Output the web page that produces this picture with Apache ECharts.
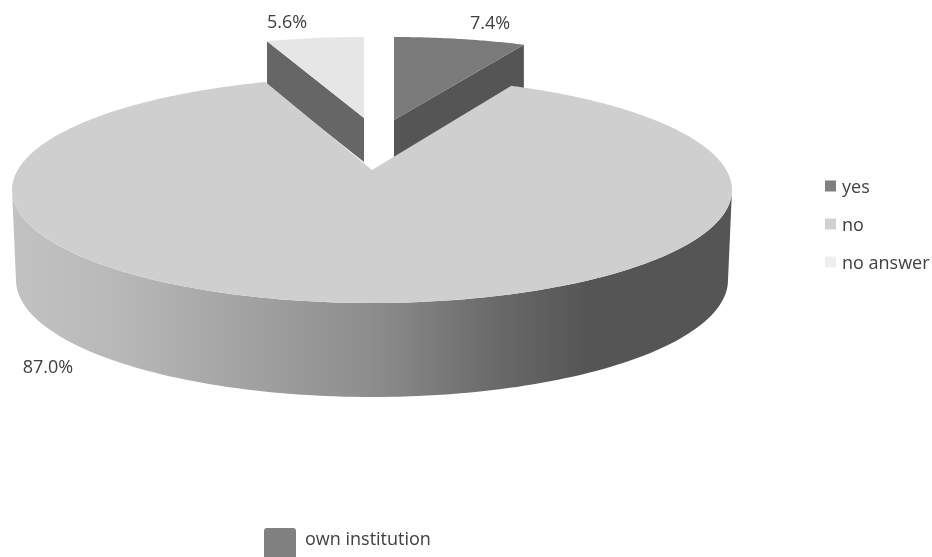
<!DOCTYPE html>
<html><head><meta charset="utf-8">
<style>html,body{margin:0;padding:0;background:#fff}#c{width:932px;height:557px}</style>
<script src="https://cdn.jsdelivr.net/npm/echarts@6/dist/echarts.min.js"></script>
</head><body><div id="c"></div>
<script>
const categories = ['yes', 'no', 'no answer'];
const shares = [7.4, 87.0, 5.6];
const swatchColors = ['#808080', '#d0d0d0', '#eeeeee'];
const noteLabel = 'own institution';

const FONT = '"Open Sans", sans-serif';
// cumulative angular span of each slice, clockwise from 12 o'clock
const total = shares.reduce((a, b) => a + b, 0);
const spans = [];
shares.reduce((acc, v) => { spans.push([acc / total * 360, (acc + v) / total * 360]); return acc + v; }, 0);

// projection of each exploded slice of the tilted pie
const views = [
  { apex: [394, 120], centre: [393, 150], rx: 360, ry: 113, k: 3.44, depth: 44, top: '#7a7a7a', side: '#555555', sideAt: 1, label: [490, 24] },
  { apex: [372, 170], centre: [372, 190], rx: 360, ry: 113, k: 3.3, depth: 0, top: '#cfcfcf', label: [48, 368] },
  { apex: [364, 118], centre: [364, 150], rx: 360, ry: 113, k: 3.44, depth: 44, top: '#e6e6e6', side: '#666666', sideAt: 0, label: [287, 23] }
];
const wallBottom = { cx: 372, cy: 280, rx: 356, ry: 117 };

function rim(v, deg) {
  const a = deg * Math.PI / 180;
  const dx = v.k * v.ry * Math.sin(a), dy = -v.ry * Math.cos(a);
  const ox = v.apex[0] - v.centre[0], oy = v.apex[1] - v.centre[1];
  const A = dx * dx / (v.rx * v.rx) + dy * dy / (v.ry * v.ry);
  const B = 2 * (ox * dx / (v.rx * v.rx) + oy * dy / (v.ry * v.ry));
  const C = ox * ox / (v.rx * v.rx) + oy * oy / (v.ry * v.ry) - 1;
  const t = (-B + Math.sqrt(B * B - 4 * A * C)) / (2 * A);
  return [v.apex[0] + dx * t, v.apex[1] + dy * t];
}

function renderSlice(i) {
  return function (params, api) {
    const v = views[i], [s, e] = spans[i];
    const children = [];
    if (v.depth) {
      const p = rim(v, v.sideAt ? e : s);
      children.push({
        type: 'polygon',
        shape: { points: [v.apex, p, [p[0], p[1] + v.depth], [v.apex[0], v.apex[1] + v.depth]] },
        style: { fill: v.side }
      });
    } else {
      const pts = [];
      const T = v.centre, B = wallBottom;
      for (let n = 0; n <= 120; n++) {
        const th = Math.PI * n / 120;
        pts.push([T[0] - v.rx * Math.cos(th), T[1] + v.ry * Math.sin(th)]);
      }
      for (let n = 120; n >= 0; n--) {
        const th = Math.PI * n / 120;
        pts.push([B.cx - B.rx * Math.cos(th), B.cy + B.ry * Math.sin(th)]);
      }
      children.push({
        type: 'polygon',
        shape: { points: pts },
        style: {
          fill: new echarts.graphic.LinearGradient(0, 0, 1, 0, [
            { offset: 0, color: '#c2c2c2' },
            { offset: 0.15, color: '#b8b8b8' },
            { offset: 0.5, color: '#8d8d8d' },
            { offset: 0.68, color: '#686868' },
            { offset: 0.8, color: '#555555' },
            { offset: 1, color: '#555555' }
          ])
        }
      });
    }
    const face = [v.apex];
    const steps = Math.max(4, Math.round((e - s) * 2));
    for (let n = 0; n <= steps; n++) face.push(rim(v, s + (e - s) * n / steps));
    children.push({ type: 'polygon', shape: { points: face }, style: { fill: v.top } });
    children.push({
      type: 'text',
      style: {
        text: api.value(0).toFixed(1) + '%', x: v.label[0], y: v.label[1],
        align: 'center', verticalAlign: 'middle',
        fill: '#404040', font: '18px ' + FONT
      }
    });
    return { type: 'group', children };
  };
}

const chart = echarts.init(document.getElementById('c'), null, { renderer: 'canvas' });
chart.setOption({
  animation: false,
  backgroundColor: '#ffffff',
  color: swatchColors,
  legend: {
    orient: 'vertical', left: 820, top: 174,
    itemWidth: 11, itemHeight: 11, itemGap: 20,
    icon: 'rect',
    formatter: '{a|{name}}',
    textStyle: {
      color: '#404040',
      rich: { a: { fontFamily: FONT, fontSize: 18, color: '#404040', padding: [4, 0, 0, 1] } }
    },
    selectedMode: false,
    data: categories
  },
  series: categories.map((name, i) => ({
    type: 'custom',
    name,
    coordinateSystem: 'none',
    silent: true,
    z: i === 1 ? 3 : 2,
    data: [[shares[i]]],
    renderItem: renderSlice(i)
  })),
  graphic: [
    { type: 'rect', shape: { x: 264, y: 528, width: 32, height: 36, r: 3 }, style: { fill: '#808080' } },
    { type: 'text', style: { x: 305, y: 540, text: noteLabel, verticalAlign: 'middle', fill: '#404040', font: '18px ' + FONT } }
  ]
});
</script></body></html>
